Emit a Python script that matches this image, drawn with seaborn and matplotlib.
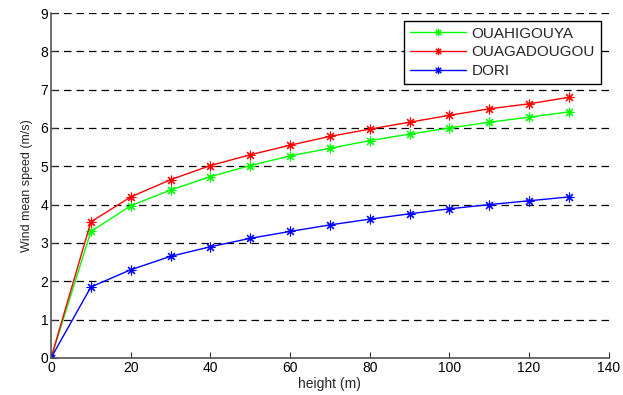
import matplotlib
matplotlib.use("Agg")
import matplotlib.pyplot as plt
import seaborn as sns
import pandas as pd

heights = [0, 10, 20, 30, 40, 50, 60, 70, 80, 90, 100, 110, 120, 130]
ouahigouya = [0, 3.30, 3.97, 4.38, 4.73, 5.02, 5.27, 5.47, 5.67, 5.84, 6.00, 6.15, 6.28, 6.42]
ouagadougou = [0, 3.55, 4.20, 4.65, 5.02, 5.30, 5.55, 5.78, 5.97, 6.15, 6.33, 6.50, 6.63, 6.80]
dori = [0, 1.85, 2.30, 2.65, 2.90, 3.12, 3.30, 3.47, 3.62, 3.76, 3.89, 4.00, 4.10, 4.20]
series_names = ["OUAHIGOUYA", "OUAGADOUGOU", "DORI"]
series_colors = ["#00ff00", "#ff0000", "#0000ff"]
x_ticks = [0, 20, 40, 60, 80, 100, 120, 140]
y_ticks = [0, 1, 2, 3, 4, 5, 6, 7, 8, 9]

sns.set_theme(style="white")
plt.rcParams["font.family"] = ["Liberation Sans", "DejaVu Sans"]

rows = []
for name, vals in zip(series_names, [ouahigouya, ouagadougou, dori]):
    for h, v in zip(heights, vals):
        rows.append({"height": h, "speed": v, "site": name})
df = pd.DataFrame(rows)

fig = plt.figure(figsize=(6.23, 3.95), dpi=100)
ax = fig.add_axes([0.082, 0.094, 0.895, 0.873])

for name, color in zip(series_names, series_colors):
    sub = df[df["site"] == name]
    sns.lineplot(data=sub, x="height", y="speed", ax=ax, color=color,
                 marker=(8, 2, 0), markersize=7, markeredgewidth=0.8,
                 markeredgecolor=color, linewidth=1, label=name)

ax.set_xlim(0, 140)
ax.set_ylim(0, 9)
ax.set_xticks(x_ticks)
ax.set_yticks(y_ticks)
ax.set_xticklabels([str(t) for t in x_ticks], fontsize=10)
ax.set_yticklabels([str(t) for t in y_ticks], fontsize=10)
ax.set_xlabel("height (m)", fontsize=10, labelpad=2)
ax.set_ylabel("Wind mean speed (m/s)", fontsize=9, labelpad=5)

ax.yaxis.grid(True, linestyle=(0, (6, 4)), color="black", linewidth=0.9)
ax.xaxis.grid(False)
for s in ["top", "right"]:
    ax.spines[s].set_visible(False)
for s in ["left", "bottom"]:
    ax.spines[s].set_color("#555555")
    ax.spines[s].set_linewidth(1.2)
ax.tick_params(direction="in", length=4, width=0.8, colors="#333333", labelcolor="black",
               bottom=True, left=True, pad=2)

leg = ax.legend(loc="upper right", fontsize=11, frameon=True, fancybox=False,
                edgecolor="black", framealpha=1, handlelength=3.7, handletextpad=0.35,
                borderaxespad=0.5, labelspacing=0.3, borderpad=0.4, markerscale=0.75)
leg.get_frame().set_linewidth(1.0)

fig.savefig("out.png", dpi=100)
